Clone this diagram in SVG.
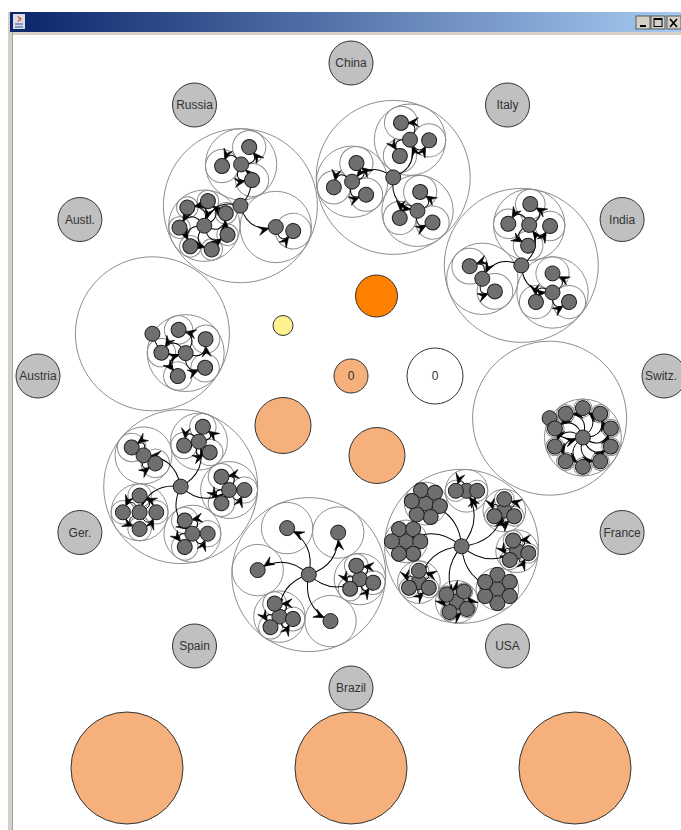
<svg xmlns="http://www.w3.org/2000/svg" width="681" height="830" viewBox="0 0 681 830">
<defs>
<style>
#rings circle{fill:none;stroke:#8e8e8e;stroke-width:1}
#edges path{fill:none;stroke:#000;stroke-width:1;marker-end:url(#ah)}
#nodes circle{fill:#6f6f6f;stroke:#1e1e1e;stroke-width:1}
#countries circle{fill:#c0c0c0;stroke:#333;stroke-width:1}
.t{font-family:"Liberation Sans",Arial,sans-serif;font-size:12px;fill:#333;text-anchor:middle}
.p{fill:#f5b07c;stroke:#333;stroke-width:1}
</style>
<linearGradient id="tb" x1="0" x2="1" y1="0" y2="0"><stop offset="0" stop-color="#0a246a"/><stop offset="1" stop-color="#a6caf0"/></linearGradient>
<marker id="ah" markerUnits="userSpaceOnUse" viewBox="-20 -6 22 12" markerWidth="22" markerHeight="12" refX="0" refY="0" orient="auto"><path d="M-7.5 0L-17.5 4.5L-13.5 0L-17.5 -4.5Z" fill="#000" stroke="#000" stroke-width="0.6"/></marker>
</defs>
<g id="window">
<rect width="681" height="830" fill="#fff"/>
<rect x="8" y="12" width="673" height="818" fill="#d4d0c8"/>
<rect x="12" y="12" width="1" height="818" fill="#a0a0a0"/>
<rect x="13" y="35" width="668" height="795" fill="#fff"/>
<rect x="10" y="12" width="671" height="20" fill="url(#tb)"/>
<rect x="13" y="14" width="12" height="15" fill="#dcdce8"/>
<path d="M18 16q3 3 0 6M20 17q2 2 0 4" stroke="#d05010" fill="none"/>
<path d="M15 24h8M15 27h8" stroke="#3050a0"/>
<rect x="636" y="16" width="14" height="13" fill="#d4d0c8" stroke="#404040" stroke-width="0.8"/>
<path d="M640 26h6" stroke="#000" stroke-width="2"/>
<rect x="651" y="16" width="14" height="13" fill="#d4d0c8" stroke="#404040" stroke-width="0.8"/>
<rect x="654" y="18.5" width="8" height="8" fill="none" stroke="#000" stroke-width="1"/>
<path d="M654 19h8" stroke="#000" stroke-width="2"/>
<rect x="667" y="16" width="14" height="13" fill="#d4d0c8" stroke="#404040" stroke-width="0.8"/>
<path d="M670 19l7 8M677 19l-7 8" stroke="#000" stroke-width="1.6"/>
</g>
<g id="rings">
<circle cx="152.4" cy="333.8" r="77"/><circle cx="240.4" cy="205.7" r="77"/><circle cx="393.2" cy="177.4" r="77"/><circle cx="521.3" cy="265.4" r="77"/>
<circle cx="549.6" cy="418.2" r="77"/><circle cx="461.6" cy="546.3" r="77"/><circle cx="308.8" cy="574.6" r="77"/><circle cx="180.7" cy="486.6" r="77"/>
<circle cx="241.1" cy="164.4" r="35.7"/><circle cx="275.8" cy="227" r="35.7"/><circle cx="204.3" cy="225.7" r="35.7"/>
<circle cx="410" cy="139.7" r="35.7"/><circle cx="417.5" cy="210.8" r="35.7"/><circle cx="352.1" cy="181.7" r="35.7"/>
<circle cx="529.2" cy="224.9" r="35.7"/><circle cx="552.5" cy="292.5" r="35.7"/><circle cx="482.3" cy="278.8" r="35.7"/>
<circle cx="185.7" cy="353.1" r="38.5"/><circle cx="582.9" cy="437.5" r="38.5"/>
<circle cx="143.5" cy="455.4" r="28.5"/><circle cx="198.9" cy="441.6" r="28.5"/><circle cx="229.1" cy="490" r="28.5"/><circle cx="192.4" cy="533.7" r="28.5"/><circle cx="139.6" cy="512.3" r="28.5"/>
<circle cx="287.1" cy="528.1" r="25.7"/><circle cx="338.2" cy="532.6" r="25.7"/><circle cx="359.9" cy="579.1" r="25.7"/><circle cx="330.5" cy="621.1" r="25.7"/><circle cx="279.4" cy="616.6" r="25.7"/><circle cx="257.7" cy="570.1" r="25.7"/>
<circle cx="425.8" cy="503.6" r="21.3"/><circle cx="466.5" cy="490.8" r="21.3"/><circle cx="504.3" cy="510.5" r="21.3"/><circle cx="517.1" cy="551.2" r="21.3"/><circle cx="497.4" cy="589" r="21.3"/><circle cx="456.7" cy="601.8" r="21.3"/><circle cx="418.9" cy="582.1" r="21.3"/><circle cx="406.1" cy="541.4" r="21.3"/>
<g transform="translate(241.1 164.4)"><circle transform="rotate(-65)" cx="19.1" r="16.6"/><circle transform="rotate(55)" cx="19.1" r="16.6"/><circle transform="rotate(175)" cx="19.1" r="16.6"/></g>
<g transform="translate(204.3 225.7)"><circle transform="rotate(-133)" cx="24.9" r="10.8"/><circle transform="rotate(-81.6)" cx="24.9" r="10.8"/><circle transform="rotate(-30.1)" cx="24.9" r="10.8"/><circle transform="rotate(21.3)" cx="24.9" r="10.8"/><circle transform="rotate(72.7)" cx="24.9" r="10.8"/><circle transform="rotate(124.1)" cx="24.9" r="10.8"/><circle transform="rotate(175.6)" cx="24.9" r="10.8"/></g>
<g transform="translate(275.8 227)"><circle transform="rotate(13)" cx="17.85" r="17.85"/></g>
<g transform="translate(410 139.7)"><circle transform="rotate(-118)" cx="19.1" r="16.6"/><circle transform="rotate(2)" cx="19.1" r="16.6"/><circle transform="rotate(122)" cx="19.1" r="16.6"/></g>
<g transform="translate(417.5 210.8)"><circle transform="rotate(-82)" cx="19.1" r="16.6"/><circle transform="rotate(38)" cx="19.1" r="16.6"/><circle transform="rotate(158)" cx="19.1" r="16.6"/></g>
<g transform="translate(352.1 181.7)"><circle transform="rotate(-77)" cx="19.1" r="16.6"/><circle transform="rotate(43)" cx="19.1" r="16.6"/><circle transform="rotate(163)" cx="19.1" r="16.6"/></g>
<g transform="translate(529.2 224.9)"><circle transform="rotate(-87)" cx="20.9" r="14.8"/><circle transform="rotate(3)" cx="20.9" r="14.8"/><circle transform="rotate(93)" cx="20.9" r="14.8"/><circle transform="rotate(183)" cx="20.9" r="14.8"/></g>
<g transform="translate(552.5 292.5)"><circle transform="rotate(-90)" cx="19.1" r="16.6"/><circle transform="rotate(30)" cx="19.1" r="16.6"/><circle transform="rotate(150)" cx="19.1" r="16.6"/></g>
<g transform="translate(482.3 278.8)"><circle transform="rotate(-135)" cx="17.85" r="17.85"/><circle transform="rotate(45)" cx="17.85" r="17.85"/></g>
<g transform="translate(185.7 353.1)"><circle transform="rotate(-107)" cx="24.3" r="14.2"/><circle transform="rotate(-35)" cx="24.3" r="14.2"/><circle transform="rotate(37)" cx="24.3" r="14.2"/><circle transform="rotate(109)" cx="24.3" r="14.2"/><circle transform="rotate(181)" cx="24.3" r="14.2"/></g>
<g transform="translate(582.9 437.5)"><circle transform="rotate(-90)" cx="29.4" r="9.1"/><circle transform="rotate(-54)" cx="29.4" r="9.1"/><circle transform="rotate(-18)" cx="29.4" r="9.1"/><circle transform="rotate(18)" cx="29.4" r="9.1"/><circle transform="rotate(54)" cx="29.4" r="9.1"/><circle transform="rotate(90)" cx="29.4" r="9.1"/><circle transform="rotate(126)" cx="29.4" r="9.1"/><circle transform="rotate(162)" cx="29.4" r="9.1"/><circle transform="rotate(198)" cx="29.4" r="9.1"/><circle transform="rotate(234)" cx="29.4" r="9.1"/></g>
<g transform="translate(143.5 455.4)"><circle transform="rotate(-146)" cx="14.25" r="14.25"/><circle transform="rotate(34)" cx="14.25" r="14.25"/></g>
<g transform="translate(198.9 441.6)"><circle transform="rotate(-75)" cx="15.3" r="13.2"/><circle transform="rotate(45)" cx="15.3" r="13.2"/><circle transform="rotate(165)" cx="15.3" r="13.2"/></g>
<g transform="translate(229.1 490)"><circle transform="rotate(-120)" cx="15.3" r="13.2"/><circle cx="15.3" r="13.2"/><circle transform="rotate(120)" cx="15.3" r="13.2"/></g>
<g transform="translate(192.4 533.7)"><circle transform="rotate(-120)" cx="15.3" r="13.2"/><circle cx="15.3" r="13.2"/><circle transform="rotate(120)" cx="15.3" r="13.2"/></g>
<g transform="translate(139.6 512.3)"><circle transform="rotate(-90)" cx="16.7" r="11.8"/><circle cx="16.7" r="11.8"/><circle transform="rotate(90)" cx="16.7" r="11.8"/><circle transform="rotate(180)" cx="16.7" r="11.8"/></g>
<g transform="translate(359.9 579.1)"><circle transform="rotate(-105)" cx="13.8" r="11.9"/><circle transform="rotate(15)" cx="13.8" r="11.9"/><circle transform="rotate(135)" cx="13.8" r="11.9"/></g>
<g transform="translate(279.4 616.6)"><circle transform="rotate(-110)" cx="13.8" r="11.9"/><circle transform="rotate(10)" cx="13.8" r="11.9"/><circle transform="rotate(130)" cx="13.8" r="11.9"/></g>
<g transform="translate(466.5 490.8)"><circle transform="rotate(180)" cx="10.65" r="10.65"/><circle cx="10.65" r="10.65"/></g>
<g transform="translate(504.3 510.5)"><circle transform="rotate(-90)" cx="11.4" r="9.9"/><circle transform="rotate(30)" cx="11.4" r="9.9"/><circle transform="rotate(150)" cx="11.4" r="9.9"/></g>
<g transform="translate(517.1 551.2)"><circle transform="rotate(-110)" cx="11.4" r="9.9"/><circle transform="rotate(10)" cx="11.4" r="9.9"/><circle transform="rotate(130)" cx="11.4" r="9.9"/></g>
<g transform="translate(456.7 601.8)"><circle transform="rotate(-145)" cx="12.5" r="8.8"/><circle transform="rotate(-55)" cx="12.5" r="8.8"/><circle transform="rotate(35)" cx="12.5" r="8.8"/><circle transform="rotate(125)" cx="12.5" r="8.8"/></g>
<g transform="translate(418.9 582.1)"><circle transform="rotate(-90)" cx="11.4" r="9.9"/><circle transform="rotate(30)" cx="11.4" r="9.9"/><circle transform="rotate(150)" cx="11.4" r="9.9"/></g>
</g>
<g id="edges">
<g transform="translate(240.4 205.7)"><path transform="rotate(-89)" d="M0 0Q20.65 20 41.3 0"/><path transform="rotate(31)" d="M0 0Q20.65 20 41.3 0"/><path transform="rotate(151)" d="M0 0Q20.65 20 41.3 0"/></g>
<g transform="translate(393.2 177.4)"><path transform="rotate(-66)" d="M0 0Q20.65 20 41.3 0"/><path transform="rotate(54)" d="M0 0Q20.65 20 41.3 0"/><path transform="rotate(174)" d="M0 0Q20.65 20 41.3 0"/></g>
<g transform="translate(521.3 265.4)"><path transform="rotate(-79)" d="M0 0Q20.65 20 41.3 0"/><path transform="rotate(41)" d="M0 0Q20.65 20 41.3 0"/><path transform="rotate(161)" d="M0 0Q20.65 20 41.3 0"/></g>
<path transform="translate(152.4 333.8)rotate(30)" d="M0 0Q19.25 20 38.5 0"/>
<path transform="translate(549.6 418.2)rotate(30)" d="M0 0Q19.25 20 38.5 0"/>
<g transform="translate(180.7 486.6)"><path transform="rotate(-140)" d="M0 0Q24.25 20 48.5 0"/><path transform="rotate(-68)" d="M0 0Q24.25 20 48.5 0"/><path transform="rotate(4)" d="M0 0Q24.25 20 48.5 0"/><path transform="rotate(76)" d="M0 0Q24.25 20 48.5 0"/><path transform="rotate(148)" d="M0 0Q24.25 20 48.5 0"/></g>
<g transform="translate(308.8 574.6)"><path transform="rotate(-115)" d="M0 0Q25.65 20 51.3 0"/><path transform="rotate(-55)" d="M0 0Q25.65 20 51.3 0"/><path transform="rotate(5)" d="M0 0Q25.65 20 51.3 0"/><path transform="rotate(65)" d="M0 0Q25.65 20 51.3 0"/><path transform="rotate(125)" d="M0 0Q25.65 20 51.3 0"/><path transform="rotate(185)" d="M0 0Q25.65 20 51.3 0"/></g>
<g transform="translate(461.6 546.3)"><path transform="rotate(-130)" d="M0 0Q27.85 20 55.7 0"/><path transform="rotate(-85)" d="M0 0Q27.85 20 55.7 0"/><path transform="rotate(-40)" d="M0 0Q27.85 20 55.7 0"/><path transform="rotate(5)" d="M0 0Q27.85 20 55.7 0"/><path transform="rotate(50)" d="M0 0Q27.85 20 55.7 0"/><path transform="rotate(95)" d="M0 0Q27.85 20 55.7 0"/><path transform="rotate(140)" d="M0 0Q27.85 20 55.7 0"/><path transform="rotate(185)" d="M0 0Q27.85 20 55.7 0"/></g>
<g transform="translate(241.1 164.4)"><path transform="rotate(-65)" d="M0 0Q9.55 20 19.1 0"/><path transform="rotate(55)" d="M0 0Q9.55 20 19.1 0"/><path transform="rotate(175)" d="M0 0Q9.55 20 19.1 0"/></g>
<g transform="translate(204.3 225.7)"><path transform="rotate(-133)" d="M0 0Q12.45 20 24.9 0"/><path transform="rotate(-81.6)" d="M0 0Q12.45 20 24.9 0"/><path transform="rotate(-30.1)" d="M0 0Q12.45 20 24.9 0"/><path transform="rotate(21.3)" d="M0 0Q12.45 20 24.9 0"/><path transform="rotate(72.7)" d="M0 0Q12.45 20 24.9 0"/><path transform="rotate(124.1)" d="M0 0Q12.45 20 24.9 0"/><path transform="rotate(175.6)" d="M0 0Q12.45 20 24.9 0"/></g>
<path transform="translate(275.8 227)rotate(13)" d="M0 0Q8.93 20 17.85 0"/>
<g transform="translate(410 139.7)"><path transform="rotate(-118)" d="M0 0Q9.55 20 19.1 0"/><path transform="rotate(2)" d="M0 0Q9.55 20 19.1 0"/><path transform="rotate(122)" d="M0 0Q9.55 20 19.1 0"/></g>
<g transform="translate(417.5 210.8)"><path transform="rotate(-82)" d="M0 0Q9.55 20 19.1 0"/><path transform="rotate(38)" d="M0 0Q9.55 20 19.1 0"/><path transform="rotate(158)" d="M0 0Q9.55 20 19.1 0"/></g>
<g transform="translate(352.1 181.7)"><path transform="rotate(-77)" d="M0 0Q9.55 20 19.1 0"/><path transform="rotate(43)" d="M0 0Q9.55 20 19.1 0"/><path transform="rotate(163)" d="M0 0Q9.55 20 19.1 0"/></g>
<g transform="translate(529.2 224.9)"><path transform="rotate(-87)" d="M0 0Q10.45 20 20.9 0"/><path transform="rotate(3)" d="M0 0Q10.45 20 20.9 0"/><path transform="rotate(93)" d="M0 0Q10.45 20 20.9 0"/><path transform="rotate(183)" d="M0 0Q10.45 20 20.9 0"/></g>
<g transform="translate(552.5 292.5)"><path transform="rotate(-90)" d="M0 0Q9.55 20 19.1 0"/><path transform="rotate(30)" d="M0 0Q9.55 20 19.1 0"/><path transform="rotate(150)" d="M0 0Q9.55 20 19.1 0"/></g>
<g transform="translate(482.3 278.8)"><path transform="rotate(-135)" d="M0 0Q8.93 20 17.85 0"/><path transform="rotate(45)" d="M0 0Q8.93 20 17.85 0"/></g>
<g transform="translate(185.7 353.1)"><path transform="rotate(-107)" d="M0 0Q12.15 20 24.3 0"/><path transform="rotate(-35)" d="M0 0Q12.15 20 24.3 0"/><path transform="rotate(37)" d="M0 0Q12.15 20 24.3 0"/><path transform="rotate(109)" d="M0 0Q12.15 20 24.3 0"/><path transform="rotate(181)" d="M0 0Q12.15 20 24.3 0"/></g>
<g transform="translate(582.9 437.5)"><path transform="rotate(-90)" d="M0 0Q14.7 20 29.4 0"/><path transform="rotate(-54)" d="M0 0Q14.7 20 29.4 0"/><path transform="rotate(-18)" d="M0 0Q14.7 20 29.4 0"/><path transform="rotate(18)" d="M0 0Q14.7 20 29.4 0"/><path transform="rotate(54)" d="M0 0Q14.7 20 29.4 0"/><path transform="rotate(90)" d="M0 0Q14.7 20 29.4 0"/><path transform="rotate(126)" d="M0 0Q14.7 20 29.4 0"/><path transform="rotate(162)" d="M0 0Q14.7 20 29.4 0"/><path transform="rotate(198)" d="M0 0Q14.7 20 29.4 0"/><path transform="rotate(234)" d="M0 0Q14.7 20 29.4 0"/></g>
<g transform="translate(143.5 455.4)"><path transform="rotate(-146)" d="M0 0Q7.13 20 14.25 0"/><path transform="rotate(34)" d="M0 0Q7.13 20 14.25 0"/></g>
<g transform="translate(198.9 441.6)"><path transform="rotate(-75)" d="M0 0Q7.65 20 15.3 0"/><path transform="rotate(45)" d="M0 0Q7.65 20 15.3 0"/><path transform="rotate(165)" d="M0 0Q7.65 20 15.3 0"/></g>
<g transform="translate(229.1 490)"><path transform="rotate(-120)" d="M0 0Q7.65 20 15.3 0"/><path d="M0 0Q7.65 20 15.3 0"/><path transform="rotate(120)" d="M0 0Q7.65 20 15.3 0"/></g>
<g transform="translate(192.4 533.7)"><path transform="rotate(-120)" d="M0 0Q7.65 20 15.3 0"/><path d="M0 0Q7.65 20 15.3 0"/><path transform="rotate(120)" d="M0 0Q7.65 20 15.3 0"/></g>
<g transform="translate(139.6 512.3)"><path transform="rotate(-90)" d="M0 0Q8.35 20 16.7 0"/><path d="M0 0Q8.35 20 16.7 0"/><path transform="rotate(90)" d="M0 0Q8.35 20 16.7 0"/><path transform="rotate(180)" d="M0 0Q8.35 20 16.7 0"/></g>
<g transform="translate(359.9 579.1)"><path transform="rotate(-105)" d="M0 0Q6.9 20 13.8 0"/><path transform="rotate(15)" d="M0 0Q6.9 20 13.8 0"/><path transform="rotate(135)" d="M0 0Q6.9 20 13.8 0"/></g>
<g transform="translate(279.4 616.6)"><path transform="rotate(-110)" d="M0 0Q6.9 20 13.8 0"/><path transform="rotate(10)" d="M0 0Q6.9 20 13.8 0"/><path transform="rotate(130)" d="M0 0Q6.9 20 13.8 0"/></g>
<g transform="translate(425.8 503.6)"><path transform="rotate(-110)" d="M0 0Q7.1 20 14.2 0"/><path transform="rotate(-50)" d="M0 0Q7.1 20 14.2 0"/><path transform="rotate(10)" d="M0 0Q7.1 20 14.2 0"/><path transform="rotate(70)" d="M0 0Q7.1 20 14.2 0"/><path transform="rotate(130)" d="M0 0Q7.1 20 14.2 0"/><path transform="rotate(190)" d="M0 0Q7.1 20 14.2 0"/></g>
<g transform="translate(466.5 490.8)"><path transform="rotate(180)" d="M0 0Q5.33 20 10.65 0"/><path d="M0 0Q5.33 20 10.65 0"/></g>
<g transform="translate(504.3 510.5)"><path transform="rotate(-90)" d="M0 0Q5.7 20 11.4 0"/><path transform="rotate(30)" d="M0 0Q5.7 20 11.4 0"/><path transform="rotate(150)" d="M0 0Q5.7 20 11.4 0"/></g>
<g transform="translate(517.1 551.2)"><path transform="rotate(-110)" d="M0 0Q5.7 20 11.4 0"/><path transform="rotate(10)" d="M0 0Q5.7 20 11.4 0"/><path transform="rotate(130)" d="M0 0Q5.7 20 11.4 0"/></g>
<g transform="translate(497.4 589)"><path transform="rotate(-90)" d="M0 0Q7.1 20 14.2 0"/><path transform="rotate(-30)" d="M0 0Q7.1 20 14.2 0"/><path transform="rotate(30)" d="M0 0Q7.1 20 14.2 0"/><path transform="rotate(90)" d="M0 0Q7.1 20 14.2 0"/><path transform="rotate(150)" d="M0 0Q7.1 20 14.2 0"/><path transform="rotate(210)" d="M0 0Q7.1 20 14.2 0"/></g>
<g transform="translate(456.7 601.8)"><path transform="rotate(-145)" d="M0 0Q6.25 20 12.5 0"/><path transform="rotate(-55)" d="M0 0Q6.25 20 12.5 0"/><path transform="rotate(35)" d="M0 0Q6.25 20 12.5 0"/><path transform="rotate(125)" d="M0 0Q6.25 20 12.5 0"/></g>
<g transform="translate(418.9 582.1)"><path transform="rotate(-90)" d="M0 0Q5.7 20 11.4 0"/><path transform="rotate(30)" d="M0 0Q5.7 20 11.4 0"/><path transform="rotate(150)" d="M0 0Q5.7 20 11.4 0"/></g>
<g transform="translate(406.1 541.4)"><path transform="rotate(-120)" d="M0 0Q7.1 20 14.2 0"/><path transform="rotate(-60)" d="M0 0Q7.1 20 14.2 0"/><path d="M0 0Q7.1 20 14.2 0"/><path transform="rotate(60)" d="M0 0Q7.1 20 14.2 0"/><path transform="rotate(120)" d="M0 0Q7.1 20 14.2 0"/><path transform="rotate(180)" d="M0 0Q7.1 20 14.2 0"/></g>
</g>
<g id="nodes">
<g id="ru0" transform="translate(240.4 205.7)"><circle r="7.5"/></g>
<g transform="translate(241.1 164.4)"><g id="ruA"><circle r="7.5"/></g><g id="ruA1" transform="rotate(-65)translate(19.1)"><circle r="7.5"/></g><g id="ruA2" transform="rotate(55)translate(19.1)"><circle r="7.5"/></g><g id="ruA3" transform="rotate(175)translate(19.1)"><circle r="7.5"/></g></g>
<g transform="translate(204.3 225.7)"><g id="ruB"><circle r="7.5"/></g><g id="ruB1" transform="rotate(-133)translate(24.9)"><circle r="7.5"/></g><g id="ruB2" transform="rotate(-81.6)translate(24.9)"><circle r="7.5"/></g><g id="ruB3" transform="rotate(-30.1)translate(24.9)"><circle r="7.5"/></g><g id="ruB4" transform="rotate(21.3)translate(24.9)"><circle r="7.5"/></g><g id="ruB5" transform="rotate(72.7)translate(24.9)"><circle r="7.5"/></g><g id="ruB6" transform="rotate(124.1)translate(24.9)"><circle r="7.5"/></g><g id="ruB7" transform="rotate(175.6)translate(24.9)"><circle r="7.5"/></g></g>
<g transform="translate(275.8 227)"><g id="ruC"><circle r="7.5"/></g><g id="ruC1" transform="rotate(13)translate(17.85)"><circle r="7.5"/></g></g>
<g id="it0" transform="translate(393.2 177.4)"><circle r="7.5"/></g>
<g transform="translate(410 139.7)"><g id="itA"><circle r="7.5"/></g><g id="itA1" transform="rotate(-118)translate(19.1)"><circle r="7.5"/></g><g id="itA2" transform="rotate(2)translate(19.1)"><circle r="7.5"/></g><g id="itA3" transform="rotate(122)translate(19.1)"><circle r="7.5"/></g></g>
<g transform="translate(417.5 210.8)"><g id="itB"><circle r="7.5"/></g><g id="itB1" transform="rotate(-82)translate(19.1)"><circle r="7.5"/></g><g id="itB2" transform="rotate(38)translate(19.1)"><circle r="7.5"/></g><g id="itB3" transform="rotate(158)translate(19.1)"><circle r="7.5"/></g></g>
<g transform="translate(352.1 181.7)"><g id="itC"><circle r="7.5"/></g><g id="itC1" transform="rotate(-77)translate(19.1)"><circle r="7.5"/></g><g id="itC2" transform="rotate(43)translate(19.1)"><circle r="7.5"/></g><g id="itC3" transform="rotate(163)translate(19.1)"><circle r="7.5"/></g></g>
<g id="in0" transform="translate(521.3 265.4)"><circle r="7.5"/></g>
<g transform="translate(529.2 224.9)"><g id="inA"><circle r="7.5"/></g><g id="inA1" transform="rotate(-87)translate(20.9)"><circle r="7.5"/></g><g id="inA2" transform="rotate(3)translate(20.9)"><circle r="7.5"/></g><g id="inA3" transform="rotate(93)translate(20.9)"><circle r="7.5"/></g><g id="inA4" transform="rotate(183)translate(20.9)"><circle r="7.5"/></g></g>
<g transform="translate(552.5 292.5)"><g id="inB"><circle r="7.5"/></g><g id="inB1" transform="rotate(-90)translate(19.1)"><circle r="7.5"/></g><g id="inB2" transform="rotate(30)translate(19.1)"><circle r="7.5"/></g><g id="inB3" transform="rotate(150)translate(19.1)"><circle r="7.5"/></g></g>
<g transform="translate(482.3 278.8)"><g id="inC"><circle r="7.5"/></g><g id="inC1" transform="rotate(-135)translate(17.85)"><circle r="7.5"/></g><g id="inC2" transform="rotate(45)translate(17.85)"><circle r="7.5"/></g></g>
<g id="au0" transform="translate(152.4 333.8)"><circle r="7.5"/></g>
<g transform="translate(185.7 353.1)"><g id="auA"><circle r="7.5"/></g><g id="auA1" transform="rotate(-107)translate(24.3)"><circle r="7.5"/></g><g id="auA2" transform="rotate(-35)translate(24.3)"><circle r="7.5"/></g><g id="auA3" transform="rotate(37)translate(24.3)"><circle r="7.5"/></g><g id="auA4" transform="rotate(109)translate(24.3)"><circle r="7.5"/></g><g id="auA5" transform="rotate(181)translate(24.3)"><circle r="7.5"/></g></g>
<g id="sw0" transform="translate(549.6 418.2)"><circle r="7.5"/></g>
<g transform="translate(582.9 437.5)"><g id="swA"><circle r="7.5"/></g><g id="swA1" transform="rotate(-90)translate(29.4)"><circle r="7.5"/></g><g id="swA2" transform="rotate(-54)translate(29.4)"><circle r="7.5"/></g><g id="swA3" transform="rotate(-18)translate(29.4)"><circle r="7.5"/></g><g id="swA4" transform="rotate(18)translate(29.4)"><circle r="7.5"/></g><g id="swA5" transform="rotate(54)translate(29.4)"><circle r="7.5"/></g><g id="swA6" transform="rotate(90)translate(29.4)"><circle r="7.5"/></g><g id="swA7" transform="rotate(126)translate(29.4)"><circle r="7.5"/></g><g id="swA8" transform="rotate(162)translate(29.4)"><circle r="7.5"/></g><g id="swA9" transform="rotate(198)translate(29.4)"><circle r="7.5"/></g><g id="swA10" transform="rotate(234)translate(29.4)"><circle r="7.5"/></g></g>
<g id="ge0" transform="translate(180.7 486.6)"><circle r="7.5"/></g>
<g transform="translate(143.5 455.4)"><g id="geA"><circle r="7.5"/></g><g id="geA1" transform="rotate(-146)translate(14.25)"><circle r="7.5"/></g><g id="geA2" transform="rotate(34)translate(14.25)"><circle r="7.5"/></g></g>
<g transform="translate(198.9 441.6)"><g id="geB"><circle r="7.5"/></g><g id="geB1" transform="rotate(-75)translate(15.3)"><circle r="7.5"/></g><g id="geB2" transform="rotate(45)translate(15.3)"><circle r="7.5"/></g><g id="geB3" transform="rotate(165)translate(15.3)"><circle r="7.5"/></g></g>
<g transform="translate(229.1 490)"><g id="geC"><circle r="7.5"/></g><g id="geC1" transform="rotate(-120)translate(15.3)"><circle r="7.5"/></g><g id="geC2" transform="translate(15.3)"><circle r="7.5"/></g><g id="geC3" transform="rotate(120)translate(15.3)"><circle r="7.5"/></g></g>
<g transform="translate(192.4 533.7)"><g id="geD"><circle r="7.5"/></g><g id="geD1" transform="rotate(-120)translate(15.3)"><circle r="7.5"/></g><g id="geD2" transform="translate(15.3)"><circle r="7.5"/></g><g id="geD3" transform="rotate(120)translate(15.3)"><circle r="7.5"/></g></g>
<g transform="translate(139.6 512.3)"><g id="geE"><circle r="7.5"/></g><g id="geE1" transform="rotate(-90)translate(16.7)"><circle r="7.5"/></g><g id="geE2" transform="translate(16.7)"><circle r="7.5"/></g><g id="geE3" transform="rotate(90)translate(16.7)"><circle r="7.5"/></g><g id="geE4" transform="rotate(180)translate(16.7)"><circle r="7.5"/></g></g>
<g id="sp0" transform="translate(308.8 574.6)"><circle r="7.5"/></g>
<g id="spA" transform="translate(287.1 528.1)"><circle r="7.5"/></g>
<g id="spB" transform="translate(338.2 532.6)"><circle r="7.5"/></g>
<g transform="translate(359.9 579.1)"><g id="spC"><circle r="7.5"/></g><g id="spC1" transform="rotate(-105)translate(13.8)"><circle r="7.5"/></g><g id="spC2" transform="rotate(15)translate(13.8)"><circle r="7.5"/></g><g id="spC3" transform="rotate(135)translate(13.8)"><circle r="7.5"/></g></g>
<g id="spD" transform="translate(330.5 621.1)"><circle r="7.5"/></g>
<g transform="translate(279.4 616.6)"><g id="spE"><circle r="7.5"/></g><g id="spE1" transform="rotate(-110)translate(13.8)"><circle r="7.5"/></g><g id="spE2" transform="rotate(10)translate(13.8)"><circle r="7.5"/></g><g id="spE3" transform="rotate(130)translate(13.8)"><circle r="7.5"/></g></g>
<g id="spF" transform="translate(257.7 570.1)"><circle r="7.5"/></g>
<g id="us0" transform="translate(461.6 546.3)"><circle r="7.5"/></g>
<g transform="translate(425.8 503.6)"><g id="usA"><circle r="7.5"/></g><g id="usA1" transform="rotate(-110)translate(14.2)"><circle r="7.5"/></g><g id="usA2" transform="rotate(-50)translate(14.2)"><circle r="7.5"/></g><g id="usA3" transform="rotate(10)translate(14.2)"><circle r="7.5"/></g><g id="usA4" transform="rotate(70)translate(14.2)"><circle r="7.5"/></g><g id="usA5" transform="rotate(130)translate(14.2)"><circle r="7.5"/></g><g id="usA6" transform="rotate(190)translate(14.2)"><circle r="7.5"/></g></g>
<g transform="translate(466.5 490.8)"><g id="usB"><circle r="7.5"/></g><g id="usB1" transform="rotate(180)translate(10.65)"><circle r="7.5"/></g><g id="usB2" transform="translate(10.65)"><circle r="7.5"/></g></g>
<g transform="translate(504.3 510.5)"><g id="usC"><circle r="7.5"/></g><g id="usC1" transform="rotate(-90)translate(11.4)"><circle r="7.5"/></g><g id="usC2" transform="rotate(30)translate(11.4)"><circle r="7.5"/></g><g id="usC3" transform="rotate(150)translate(11.4)"><circle r="7.5"/></g></g>
<g transform="translate(517.1 551.2)"><g id="usD"><circle r="7.5"/></g><g id="usD1" transform="rotate(-110)translate(11.4)"><circle r="7.5"/></g><g id="usD2" transform="rotate(10)translate(11.4)"><circle r="7.5"/></g><g id="usD3" transform="rotate(130)translate(11.4)"><circle r="7.5"/></g></g>
<g transform="translate(497.4 589)"><g id="usE"><circle r="7.5"/></g><g id="usE1" transform="rotate(-90)translate(14.2)"><circle r="7.5"/></g><g id="usE2" transform="rotate(-30)translate(14.2)"><circle r="7.5"/></g><g id="usE3" transform="rotate(30)translate(14.2)"><circle r="7.5"/></g><g id="usE4" transform="rotate(90)translate(14.2)"><circle r="7.5"/></g><g id="usE5" transform="rotate(150)translate(14.2)"><circle r="7.5"/></g><g id="usE6" transform="rotate(210)translate(14.2)"><circle r="7.5"/></g></g>
<g transform="translate(456.7 601.8)"><g id="usF"><circle r="7.5"/></g><g id="usF1" transform="rotate(-145)translate(12.5)"><circle r="7.5"/></g><g id="usF2" transform="rotate(-55)translate(12.5)"><circle r="7.5"/></g><g id="usF3" transform="rotate(35)translate(12.5)"><circle r="7.5"/></g><g id="usF4" transform="rotate(125)translate(12.5)"><circle r="7.5"/></g></g>
<g transform="translate(418.9 582.1)"><g id="usG"><circle r="7.5"/></g><g id="usG1" transform="rotate(-90)translate(11.4)"><circle r="7.5"/></g><g id="usG2" transform="rotate(30)translate(11.4)"><circle r="7.5"/></g><g id="usG3" transform="rotate(150)translate(11.4)"><circle r="7.5"/></g></g>
<g transform="translate(406.1 541.4)"><g id="usH"><circle r="7.5"/></g><g id="usH1" transform="rotate(-120)translate(14.2)"><circle r="7.5"/></g><g id="usH2" transform="rotate(-60)translate(14.2)"><circle r="7.5"/></g><g id="usH3" transform="translate(14.2)"><circle r="7.5"/></g><g id="usH4" transform="rotate(60)translate(14.2)"><circle r="7.5"/></g><g id="usH5" transform="rotate(120)translate(14.2)"><circle r="7.5"/></g><g id="usH6" transform="rotate(180)translate(14.2)"><circle r="7.5"/></g></g>
</g>
<g id="center">
<g id="c0"><circle class="p" cx="351" cy="376" r="17"/><text class="t" x="351" y="380">0</text></g>
<g id="c1"><circle cx="435" cy="376" r="28" fill="#fff" stroke="#333"/><text class="t" x="435" y="380">0</text></g>
<g id="c2"><circle cx="376.5" cy="296" r="21" fill="#ff8000" stroke="#333"/></g>
<g id="c3"><circle cx="283" cy="325.5" r="10" fill="#fef28e" stroke="#333"/></g>
<g id="c4"><circle class="p" cx="283" cy="425.5" r="28"/></g>
<g id="c5"><circle class="p" cx="377" cy="455.5" r="28"/></g>
</g>
<g id="countries">
<g id="china"><circle cx="351" cy="63" r="22"/><text class="t" x="351" y="67">China</text></g>
<g id="russia"><circle cx="194.5" cy="105" r="22"/><text class="t" x="194.5" y="109">Russia</text></g>
<g id="italy"><circle cx="507.5" cy="105" r="22"/><text class="t" x="507.5" y="109">Italy</text></g>
<g id="austl"><circle cx="79.9" cy="219.5" r="22"/><text class="t" x="79.9" y="223.5">Austl.</text></g>
<g id="india"><circle cx="622.1" cy="219.5" r="22"/><text class="t" x="622.1" y="223.5">India</text></g>
<g id="austria"><circle cx="38" cy="376" r="22"/><text class="t" x="38" y="380">Austria</text></g>
<g id="switz"><circle cx="664" cy="376" r="22"/><text class="t" x="661" y="380">Switz.</text></g>
<g id="ger"><circle cx="79.9" cy="532.5" r="22"/><text class="t" x="79.9" y="536.5">Ger.</text></g>
<g id="france"><circle cx="622.1" cy="532.5" r="22"/><text class="t" x="622.1" y="536.5">France</text></g>
<g id="spain"><circle cx="194.5" cy="646" r="22"/><text class="t" x="194.5" y="650">Spain</text></g>
<g id="usa"><circle cx="507.5" cy="646" r="22"/><text class="t" x="507.5" y="650">USA</text></g>
<g id="brazil"><circle cx="351" cy="688" r="22"/><text class="t" x="351" y="692">Brazil</text></g>
</g>
<g id="bottom">
<g id="b1"><circle class="p" cx="127" cy="768" r="56"/></g>
<g id="b2"><circle class="p" cx="351" cy="768" r="56"/></g>
<g id="b3"><circle class="p" cx="575" cy="768" r="56"/></g>
</g>
</svg>
